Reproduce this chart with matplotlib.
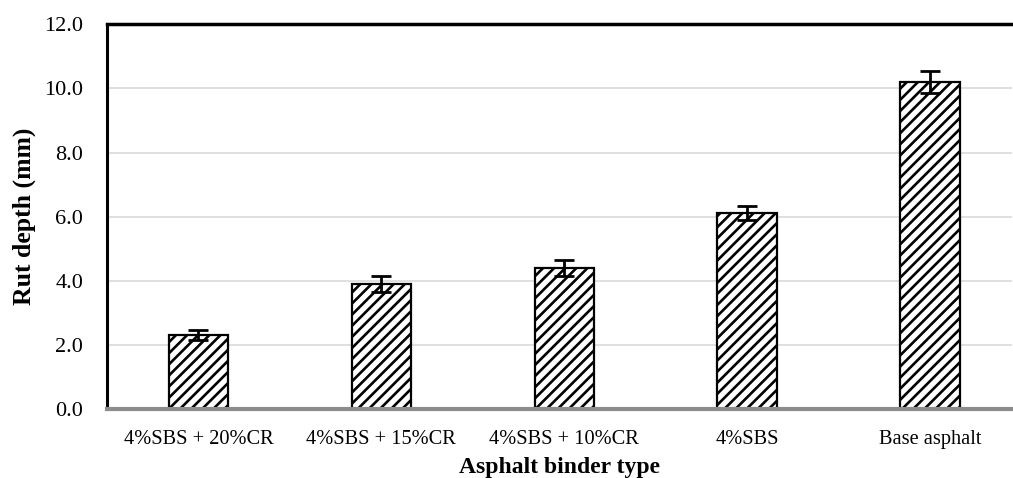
import matplotlib
matplotlib.use("Agg")
import matplotlib.pyplot as plt
import numpy as np

categories = ["4%SBS + 20%CR", "4%SBS + 15%CR", "4%SBS + 10%CR", "4%SBS", "Base asphalt"]
rut_depth = [2.3, 3.9, 4.4, 6.12, 10.2]
rut_err = [0.16, 0.25, 0.25, 0.22, 0.35]
yticks = [0.0, 2.0, 4.0, 6.0, 8.0, 10.0, 12.0]

plt.rcParams['font.family'] = ['Liberation Serif', 'DejaVu Serif']
plt.rcParams['hatch.linewidth'] = 1.9
plt.rcParams['hatch.color'] = 'black'

fig = plt.figure(figsize=(10.13, 4.78), dpi=100)
ax = fig.add_axes([0.1056, 0.1444, 0.8935, 0.8047])

x = np.arange(len(categories))
ax.bar(x, rut_depth, width=0.325, color='white', edgecolor='black', linewidth=1.6,
       hatch='///', zorder=3)
ax.errorbar(x, rut_depth, yerr=rut_err, fmt='none', ecolor='black', elinewidth=2,
            capsize=7.5, capthick=2, zorder=4)

ax.set_xlim(-0.5, 4.448)
ax.set_ylim(0, 12)
ax.set_yticks(yticks)
ax.set_yticklabels([f"{v:.1f}" for v in yticks], fontsize=16)
ax.set_xticks(x)
ax.set_xticklabels(categories, fontsize=14.7)
ax.tick_params(axis='both', length=0)
ax.tick_params(axis='y', pad=17)
ax.tick_params(axis='x', pad=15)

ax.yaxis.grid(True, color='#d9d9d9', linewidth=1.2, zorder=0)
ax.set_axisbelow(True)

ax.spines['right'].set_visible(False)
ax.spines['top'].set_linewidth(2.5)
ax.spines['top'].set_color('black')
ax.spines['left'].set_linewidth(2.2)
ax.spines['left'].set_color('black')
ax.spines['bottom'].set_linewidth(3)
ax.spines['bottom'].set_color('#8c8c8c')
ax.spines['bottom'].set_zorder(5)

ax.set_ylabel("Rut depth (mm)", fontsize=18.5, fontweight='bold', labelpad=6)
ax.set_xlabel("Asphalt binder type", fontsize=17, fontweight='bold', labelpad=6)

fig.savefig("out.png", dpi=100)
